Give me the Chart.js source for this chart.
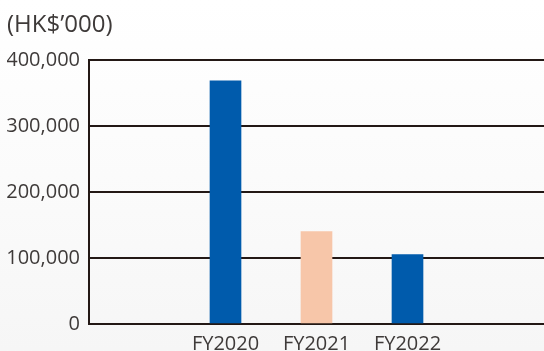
<!DOCTYPE html>
<html>
<head>
<meta charset="utf-8">
<script src="https://cdn.jsdelivr.net/npm/chart.js@4/dist/chart.umd.min.js"></script>
<style>
  html, body { margin: 0; padding: 0; }
  body {
    width: 544px;
    height: 351px;
    background: linear-gradient(to bottom, #ffffff 0%, #fbfbfb 50%, #f6f6f6 100%);
  }
  #wrap { position: relative; width: 544px; height: 351px; }
</style>
</head>
<body>
<div id="wrap"><canvas id="chart"></canvas></div>
<script>
// empty slots on both ends keep the three years in the middle
const categories = ['', 'FY2020', 'FY2021', 'FY2022', ''];
const amounts = [null, 368000, 140000, 105000, null];
const barColors = ['#005bac', '#005bac', '#f7c6a9', '#005bac', '#005bac'];
const yTicks = [0, 100000, 200000, 300000, 400000];

const ink = '#231815';
const textColor = '#3e3a39';
const fontFamily = '"Open Sans", "Noto Sans", sans-serif';

new Chart(document.getElementById('chart'), {
  type: 'bar',
  data: {
    labels: categories,
    datasets: [{
      data: amounts,
      backgroundColor: barColors,
      borderWidth: 0,
      barThickness: 31,
    }],
  },
  options: {
    responsive: true,
    maintainAspectRatio: false,
    animation: false,
    layout: { padding: { left: 7, right: 0, top: 0, bottom: -13 } },
    plugins: {
      legend: { display: false },
      tooltip: { enabled: false },
      title: {
        display: true,
        text: '(HK$\u2019000)',
        align: 'start',
        color: textColor,
        font: { family: fontFamily, size: 24, weight: 'normal' },
        padding: { top: 11, bottom: 20 },
      },
    },
    scales: {
      x: {
        grid: { display: false, drawTicks: false },
        border: { display: false },
        ticks: {
          color: textColor,
          font: { family: fontFamily, size: 20 },
          padding: 8,
          maxRotation: 0,
          autoSkip: false,
        },
      },
      y: {
        min: yTicks[0],
        max: yTicks[yTicks.length - 1],
        afterBuildTicks: (axis) => { axis.ticks = yTicks.map((v) => ({ value: v })); },
        afterFit: (axis) => { axis.width = 82; },
        grid: { color: ink, lineWidth: 2, drawTicks: false },
        border: { display: true, color: ink, width: 2 },
        ticks: {
          color: textColor,
          font: { family: fontFamily, size: 20 },
          padding: 9,
          callback: (v) => v.toLocaleString('en-US'),
        },
      },
    },
  },
});
</script>
</body>
</html>
